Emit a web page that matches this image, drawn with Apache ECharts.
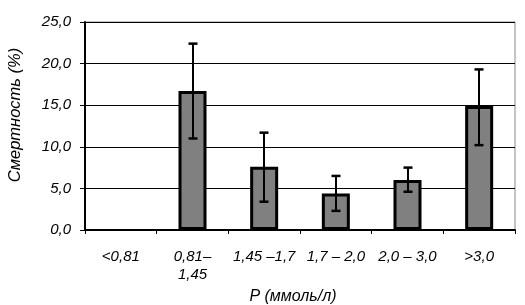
<!DOCTYPE html>
<html>
<head>
<meta charset="utf-8">
<script src="https://cdn.jsdelivr.net/npm/echarts@6/dist/echarts.min.js"></script>
<style>
html,body{margin:0;padding:0;background:#fff;}
#chart{width:525px;height:305px;}
</style>
</head>
<body>
<div id="chart"></div>
<script>
//категории по фосфору
var categories=['<0,81','0,81–\n1,45','1,45 –1,7','1,7 – 2,0','2,0 – 3,0','>3,0'];
//смертность, %
var mortality=[null,16.7,7.6,4.4,6.0,14.9];
//границы погрешности
var errLow=[null,11.0,3.4,2.3,4.6,10.2];
var errHigh=[null,22.4,11.7,6.5,7.5,19.3];
var yTicks=[0,5,10,15,20,25];

var fontName='Liberation Sans';
var errData=categories.map(function(c,i){
	return [i,errLow[i],errHigh[i]];
}).filter(function(d){return d[1]!==null;});

var myChart=echarts.init(document.getElementById('chart'));
myChart.setOption({
	animation:false,
	textStyle:{fontFamily:fontName,fontStyle:'italic',color:'#000'},
	grid:{left:85,right:10,top:22,bottom:75,outerBoundsMode:'none',show:true,borderColor:'#8a8a8a',borderWidth:1,backgroundColor:'transparent'},
	xAxis:{
		type:'category',
		data:categories,
		axisLine:{lineStyle:{color:'#000',width:2}},
		axisTick:{show:true,length:4,lineStyle:{color:'#000'}},
		axisLabel:{
			fontSize:15,fontStyle:'italic',fontFamily:fontName,color:'#000',
			margin:18,lineHeight:18,interval:0
		},
		name:'P (ммоль/л)',
		nameLocation:'middle',
		nameGap:47,
		nameTextStyle:{fontSize:16,fontStyle:'italic',fontFamily:fontName,color:'#000',padding:[0,14,0,0]}
	},
	yAxis:{
		type:'value',
		min:yTicks[0],
		max:yTicks[yTicks.length-1],
		interval:5,
		axisLine:{show:true,lineStyle:{color:'#000',width:2}},
		axisTick:{show:true,length:5,lineStyle:{color:'#000'}},
		splitLine:{lineStyle:{color:'#000',width:1}},
		axisLabel:{
			fontSize:15,fontStyle:'italic',fontFamily:fontName,color:'#000',margin:14,
			formatter:function(v){return v.toFixed(1).replace('.',',');}
		},
		name:'Смертность (%)',
		nameLocation:'middle',
		nameGap:61,
		nameTextStyle:{fontSize:16.5,fontStyle:'italic',fontFamily:fontName,color:'#000',padding:[0,0,0,22]}
	},
	series:[
		{
			type:'bar',
			data:mortality,
			barWidth:28,
			itemStyle:{color:'#808080',borderColor:'#000',borderWidth:3},
			z:2
		},
		{
			type:'custom',
			data:errData,
			z:3,
			renderItem:function(params,api){
				var lo=api.coord([api.value(0),api.value(1)]);
				var hi=api.coord([api.value(0),api.value(2)]);
				var x=Math.round(lo[0]);
				var hw=4.5;
				var st={stroke:'#000',lineWidth:2};
				return {
					type:'group',
					children:[
						{type:'line',shape:{x1:x,y1:hi[1],x2:x,y2:lo[1]},style:st},
						{type:'line',shape:{x1:x-hw,y1:hi[1],x2:x+hw,y2:hi[1]},style:{stroke:'#000',lineWidth:2.5}},
						{type:'line',shape:{x1:x-hw,y1:lo[1],x2:x+hw,y2:lo[1]},style:{stroke:'#000',lineWidth:2.5}}
					]
				};
			}
		}
	]
});
</script>
</body>
</html>
